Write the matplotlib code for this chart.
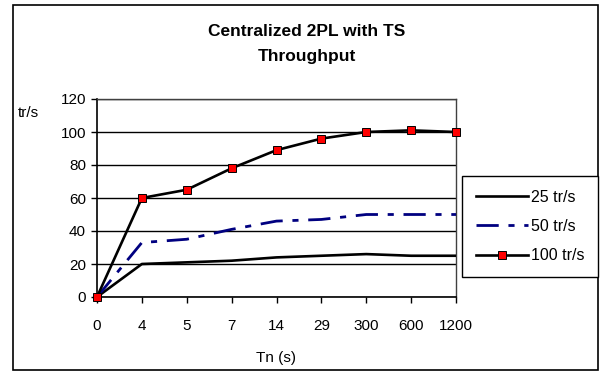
import matplotlib
matplotlib.use("Agg")
import matplotlib.pyplot as plt
from matplotlib.patches import Rectangle

plt.rcParams['font.family'] = ['Liberation Sans', 'DejaVu Sans']

# data
tn_labels = ['0', '4', '5', '7', '14', '29', '300', '600', '1200']
rate_25 = [0, 20, 21, 22, 24, 25, 26, 25, 25]
rate_50 = [0, 33, 35, 41, 46, 47, 50, 50, 50]
rate_100 = [0, 60, 65, 78, 89, 96, 100, 101, 100]
y_ticks = [0, 20, 40, 60, 80, 100, 120]

W, H = 602, 372
fig = plt.figure(figsize=(W / 100, H / 100), dpi=100)
fig.patch.set_facecolor('white')

# outer chart border
fig.patches.append(Rectangle((12.5 / W, 2.5 / H), (597.5 - 12.5) / W, (367.5 - 2.5) / H,
                             transform=fig.transFigure, fill=False,
                             edgecolor='black', linewidth=1.2))

ax = fig.add_axes([97 / W, (H - 297) / H, (456 - 97) / W, (297 - 99) / H])

x = range(len(tn_labels))
l25, = ax.plot(x, rate_25, color='black', lw=1.9, label='25 tr/s', zorder=3)
l50, = ax.plot(x, rate_50, color='#000080', lw=2.0, label='50 tr/s',
               dashes=(8, 3.5, 2.2, 3.5), zorder=3)
l100, = ax.plot(x, rate_100, color='black', lw=1.9, marker='s', markersize=5.4,
                markerfacecolor='red', markeredgecolor='black', markeredgewidth=0.7,
                label='100 tr/s', zorder=4, clip_on=False)

ax.set_xlim(0, len(tn_labels) - 1)
ax.set_ylim(0, 120)
ax.set_xticks(list(x))
ax.set_xticklabels(tn_labels)
ax.set_yticks(y_ticks)
ax.yaxis.grid(True, color='black', lw=1)
ax.set_axisbelow(True)
ax.tick_params(axis='both', direction='out', length=4, width=1, labelsize=11,
               colors='black', pad=4)
ax.tick_params(axis='x', pad=12)
for s in ['left', 'bottom']:
    ax.spines[s].set_color('black')
    ax.spines[s].set_linewidth(1.2)
for s in ['top', 'right']:
    ax.spines[s].set_color('#404040')
    ax.spines[s].set_linewidth(1.0)

fig.text(28 / W, 1 - 113 / H, 'tr/s', fontsize=11, ha='center', va='center')
fig.text(276.5 / W, 1 - 358 / H, 'Tn (s)', fontsize=11, ha='center', va='center')
fig.text(307 / W, 1 - 31 / H, 'Centralized 2PL with TS', fontsize=12.5,
         fontweight='bold', ha='center', va='center')
fig.text(307 / W, 1 - 56 / H, 'Throughput', fontsize=12.5,
         fontweight='bold', ha='center', va='center')

leg = fig.legend(handles=[l25, l50, l100], loc='center',
                 bbox_to_anchor=(463 / W, (H - 276) / H, (597 - 463) / W, (276 - 177) / H),
                 bbox_transform=fig.transFigure, fontsize=11.5, handlelength=3.3,
                 handletextpad=0.15, labelspacing=0.9, borderpad=0.85,
                 fancybox=False, framealpha=1, edgecolor='black')
leg.get_frame().set_linewidth(1.0)

fig.savefig('out.png', dpi=100)
